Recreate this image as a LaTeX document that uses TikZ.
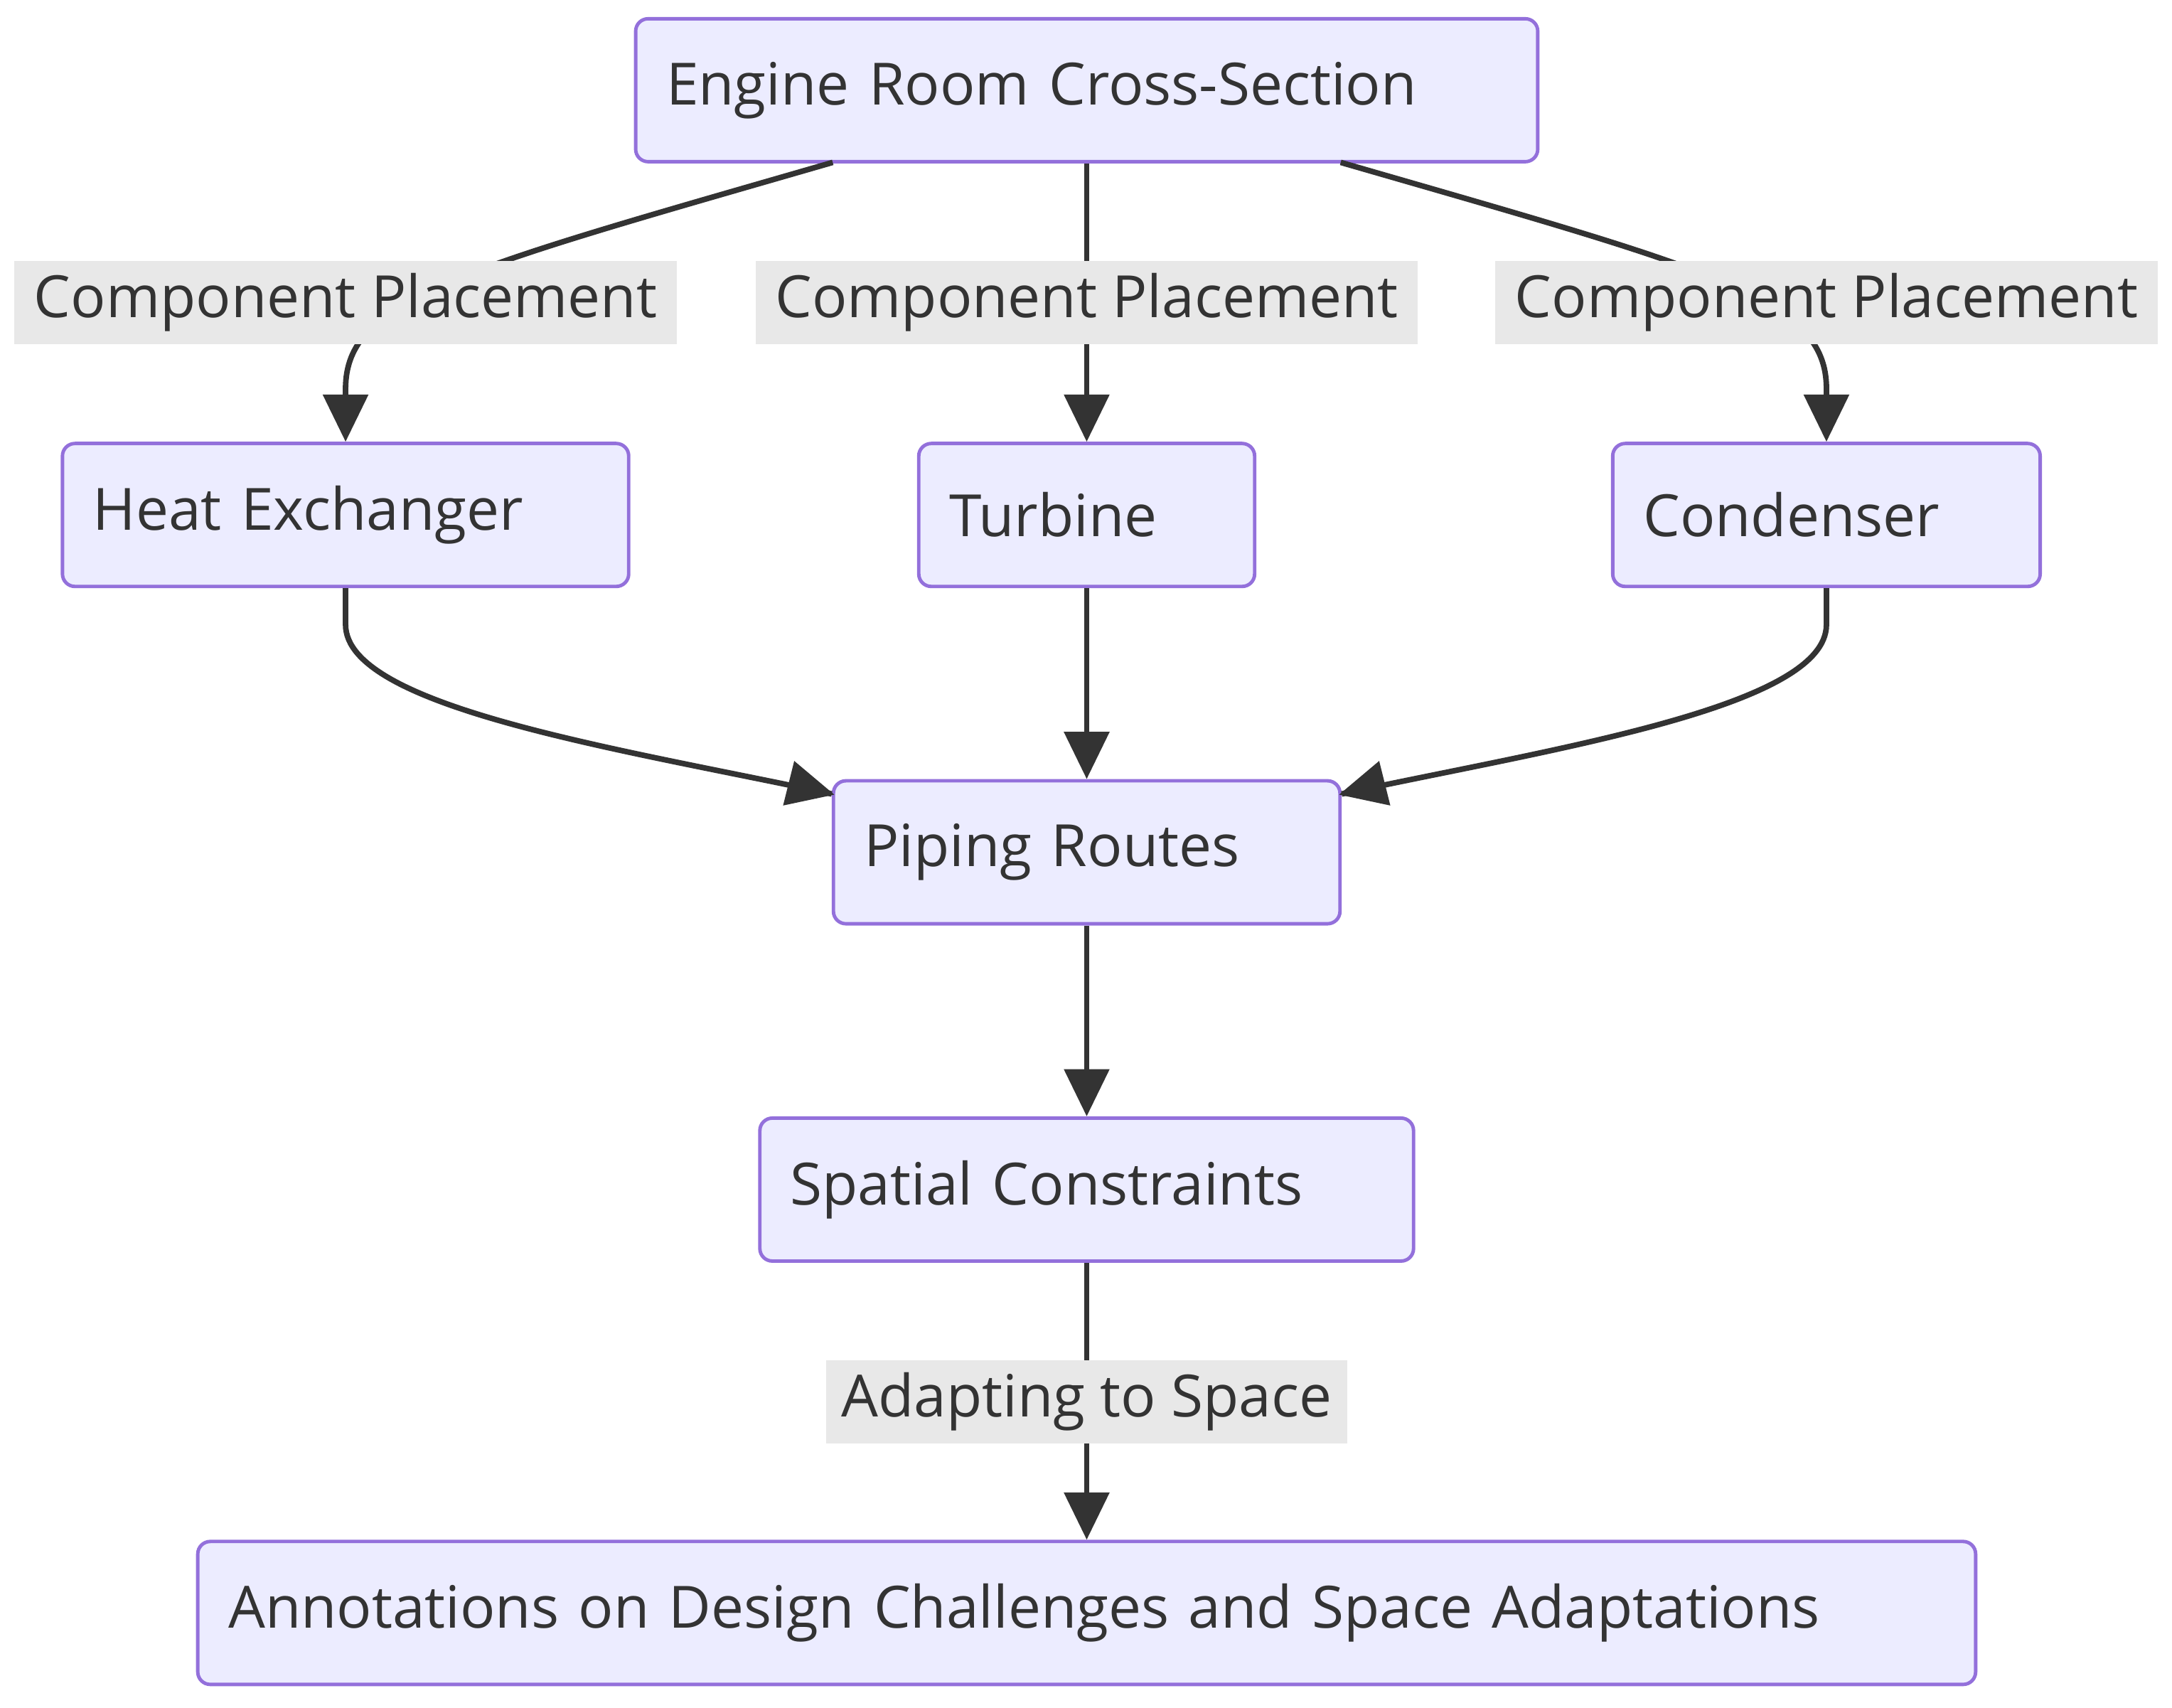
\documentclass[tikz,border=0pt]{standalone}
\usepackage{fontspec}
\setmainfont{Open Sans}
\usetikzlibrary{arrows.meta}
\definecolor{boxfill}{HTML}{ECECFF}
\definecolor{boxdraw}{HTML}{9370DB}
\definecolor{ln}{HTML}{333333}
\definecolor{lbl}{HTML}{E8E8E8}
\begin{document}
\begin{tikzpicture}[x=1pt,y=-1pt,
  box/.style={draw=boxdraw,fill=boxfill,line width=2.5pt,rounded corners=9pt,minimum height=103pt,inner xsep=22pt,inner ysep=0pt,align=left,text=ln,font=\fontsize{42}{50}\selectfont},
  lab/.style={fill=lbl,inner sep=0pt,minimum height=60pt,text=ln,font=\fontsize{42}{50}\selectfont},
  edge/.style={draw=ln,line width=4pt,-{Triangle[length=34pt,width=32pt]}}]
\useasboundingbox (0,0) rectangle (1565,1230);
\node[box,text width=606pt] (eng) at (783,65) {Engine Room Cross-Section};
\node[box,text width=364pt] (hx) at (249,371) {Heat Exchanger};
\node[box,text width=198pt] (tur) at (783,371) {Turbine};
\node[box,text width=264pt] (con) at (1316,371) {Condenser};
\node[box,text width=321pt] (pip) at (783,614) {Piping Routes};
\node[box,text width=427pt] (spa) at (783,857) {Spatial Constraints};
\node[box,text width=1237pt] (ann) at (783,1162) {Annotations on Design Challenges and Space Adaptations};
\coordinate (e1) at (600,117);
\coordinate (e3) at (966,117);
\path[edge] (e1) .. controls (330,195) and (249,215) .. (249,280) -- (hx.north);
\path[edge] (eng.south) -- (tur.north);
\path[edge] (e3) .. controls (1236,195) and (1316,215) .. (1316,280) -- (con.north);
\node[lab,minimum width=477pt] (l1) at (249,218) {Component Placement};
\node[lab,minimum width=477pt] (l2) at (783,218) {Component Placement};
\node[lab,minimum width=477pt] (l3) at (1316,218) {Component Placement};
\path[edge] (hx.south) -- (249,450) .. controls (249,510) and (450,540) .. (pip.north west|-0,572) -- ++(2,0.5);
\path[edge] (tur.south) -- (pip.north);
\path[edge] (con.south) -- (1316,450) .. controls (1316,510) and (1115,540) .. (pip.north east|-0,572) -- ++(-2,0.5);
\path[edge] (pip.south) -- (spa.north);
\path[edge] (spa.south) -- (ann.north);
\node[lab,minimum width=376pt] (l4) at (783,1010) {Adapting to Space};
\end{tikzpicture}
\end{document}
